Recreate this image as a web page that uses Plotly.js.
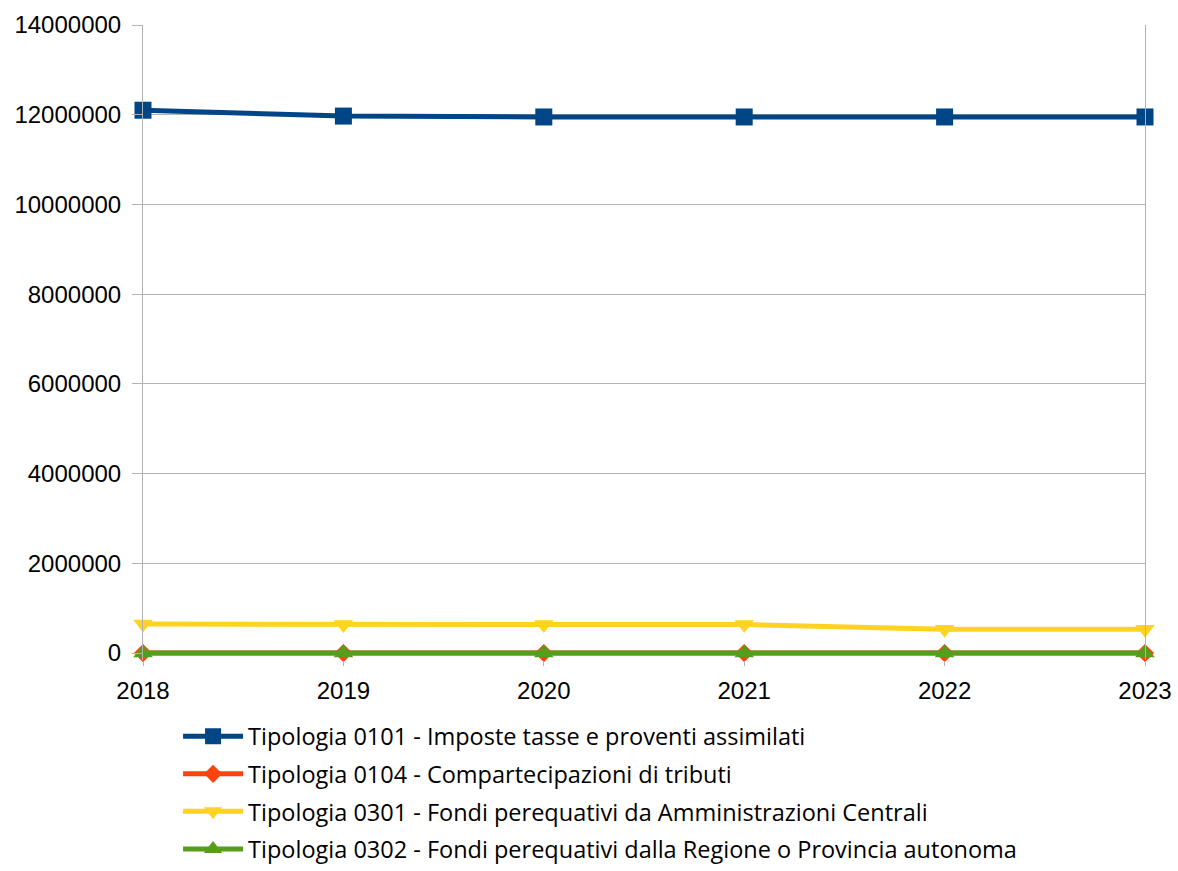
<!DOCTYPE html>
<html>
<head>
<meta charset="utf-8">
<script src="https://cdn.plot.ly/plotly-3.0.1.min.js"></script>
<style>html,body{margin:0;padding:0;background:#fff}#chart{width:1178px;height:871px}</style>
</head>
<body>
<div id="chart"></div>
<script>
const years = ["2018", "2019", "2020", "2021", "2022", "2023"];
const names = [
  "Tipologia 0101 - Imposte tasse e proventi assimilati",
  "Tipologia 0104 - Compartecipazioni di tributi",
  "Tipologia 0301 - Fondi perequativi da Amministrazioni Centrali",
  "Tipologia 0302 - Fondi perequativi dalla Regione o Provincia autonoma"
];
const t0101 = [12100000, 11970000, 11950000, 11950000, 11950000, 11950000];
const t0104 = [0, 0, 0, 0, 0, 0];
const t0301 = [645000, 635000, 635000, 635000, 530000, 530000];
const t0302 = [0, 0, 0, 0, 0, 0];
const colors = ["#004586", "#ff420e", "#ffd320", "#579d1c"];
const symbols = ["square", "diamond", "triangle-down", "triangle-up"];
const series = [t0101, t0104, t0301, t0302];

const traces = series.map((s, i) => ({
  x: years, y: s, name: names[i], type: "scatter", mode: "lines+markers",
  legendgroup: "g" + i,
  line: {color: colors[i], width: 5},
  marker: {color: colors[i], symbol: symbols[i], size: i === 1 ? 14 : 17},
  cliponaxis: false
}));

const layout = {
  width: 1178, height: 871,
  margin: {l: 143, r: 33, t: 25, b: 211, autoexpand: false},
  paper_bgcolor: "#fff", plot_bgcolor: "#fff",
  showlegend: true,
  font: {family: "Liberation Sans, Arial, sans-serif", color: "#000"},
  xaxis: {
    type: "category", range: [0, 5],
    showgrid: false, zeroline: false,
    showline: false,
    ticks: "outside", ticklen: 5, tickcolor: "#b3b3b3",
    ticklabelstandoff: 4,
    tickfont: {size: 24, family: "Liberation Sans, Arial, sans-serif"}
  },
  yaxis: {
    range: [-155000, 14000000],
    tickvals: [0, 2000000, 4000000, 6000000, 8000000, 10000000, 12000000, 14000000],
    tickformat: "d",
    showgrid: true, gridcolor: "#b3b3b3", gridwidth: 1,
    zeroline: false,
    showline: true, linecolor: "#b3b3b3", linewidth: 1, mirror: true,
    ticks: "outside", ticklen: 10, tickcolor: "#b3b3b3",
    ticklabelstandoff: 6,
    tickfont: {size: 24, family: "Liberation Sans, Arial, sans-serif"}
  },
  legend: {
    x: 0.035, xanchor: "left", y: -0.333, yanchor: "bottom",
    orientation: "v", tracegroupgap: 4,
    font: {size: 23.5, family: "Open Sans, sans-serif", color: "#000"},
    itemwidth: 60
  }
};

Plotly.newPlot("chart", traces, layout, {displayModeBar: false, staticPlot: true});
</script>
</body>
</html>
